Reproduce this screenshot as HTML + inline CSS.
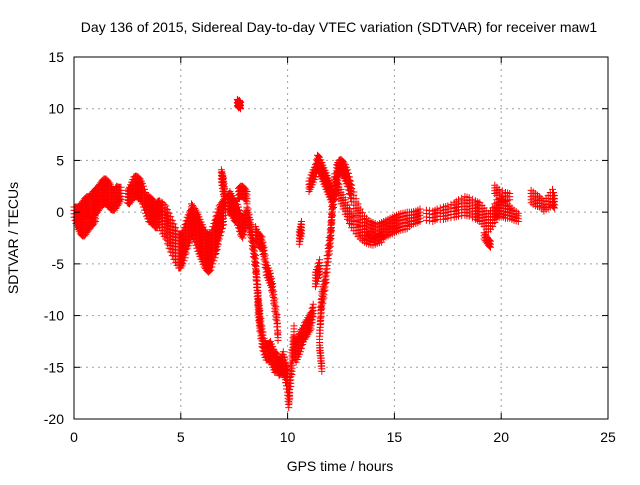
<!DOCTYPE html>
<html><head><meta charset="utf-8"><style>
body{margin:0;background:#fff}
svg text{font-family:"Liberation Sans",sans-serif;font-size:14px;fill:#000}
</style></head><body>
<svg id="chart" width="640" height="480" xmlns="http://www.w3.org/2000/svg">
<rect width="640" height="480" fill="#fff"/>
<g id="grid"></g>
<g id="marks"></g>
<rect x="74" y="57" width="534" height="362" fill="none" stroke="#000" stroke-width="1"/>
<g id="ticks"></g>
<text x="339" y="32" text-anchor="middle">Day 136 of 2015, Sidereal Day-to-day VTEC variation (SDTVAR) for receiver maw1</text>
<text x="340" y="471" text-anchor="middle">GPS time / hours</text>
<text x="18" y="238" text-anchor="middle" transform="rotate(-90 18 238)">SDTVAR / TECUs</text>
</svg>
<script>
const xTicks=[0,5,10,15,20,25];
const yTicks=[15,10,5,0,-5,-10,-15,-20];
const t1=[0,0.1,0.2,0.3,0.4,0.5,0.6,0.7,0.8,0.9,1.0,1.1,1.2,1.3,1.4,1.5,1.6,1.7,1.8,1.9,2.0,2.1,2.2];
const v1=[0,-0.3,-0.5,-0.3,0,0.3,0.5,0.5,0.5,0.8,1,1.2,1.5,1.8,2,2,1.8,1.5,1.2,1.2,1.5,1.6,1.8];
const s1=[0.5,0.8,1,1,1,1,1,1,1.2,1.2,1.2,1.2,1.2,1.2,1.2,1.2,1.2,1.2,1,1,1,0.8,0.6];
const t2=[0.2,0.3,0.4,0.5,0.6,0.7,0.8,0.9,1.0];
const v2=[-1.3,-1.6,-1.8,-1.8,-1.5,-1.2,-1.0,-0.8,-0.5];
const s2=[0.4,0.5,0.5,0.5,0.5,0.5,0.4,0.4,0.4];
const t3=[2.5,2.6,2.7,2.8,2.9,3.0,3.1,3.2,3.3,3.4,3.5,3.6,3.7,3.8,3.9];
const v3=[1.5,1.6,2,2.4,2.5,2.4,2.2,1.8,1.2,0.6,0.3,0.2,0,-0.3,-0.5];
const s3=[0.6,0.8,0.9,1,1,1,1,1,1,1,1.2,1.2,1.2,1.2,1];
const t4=[3.9,4.0,4.15,4.3,4.45,4.6,4.75,4.9,5.0,5.1,5.2,5.3,5.4,5.5];
const v4=[0,-0.2,-0.6,-1.0,-1.8,-2.5,-3.2,-3.8,-3.8,-3.4,-2.8,-2,-1.5,-1];
const s4=[1,1.3,1.5,1.6,1.7,1.7,1.7,1.6,1.6,1.6,1.6,1.5,1.5,1.3];
const t5=[5.5,5.6,5.7,5.8,5.9,6.0,6.1,6.2,6.3,6.4,6.5,6.6,6.7,6.8,6.9,7.0];
const v5=[-0.5,-1,-1.5,-2,-2.5,-3,-3.5,-3.8,-4,-3.8,-3.2,-2.6,-1.8,-1,-0.5,0];
const s5=[1.3,1.5,1.7,1.8,1.8,1.8,1.8,1.8,1.8,1.8,1.8,1.8,1.8,1.6,1.4,1.2];
const t6=[6.9,6.95,7.0,7.05,7.1];
const v6=[3.5,3,2.5,1.5,0.5];
const s6=[0.6,0.7,0.8,0.8,0.8];
const t7=[7.2,7.3,7.4,7.5,7.6,7.7,7.8,7.9,8.0,8.1];
const v7=[0.8,1,0.6,0.2,0,-0.5,-1.2,-1.5,-1,-0.5];
const s7=[0.8,1,1,1,1,1,1,1,0.8,0.8];
const t8=[7.7,7.8,7.9,8.0,8.1];
const v8=[1.8,2,2,1.8,1.5];
const s8=[0.5,0.5,0.5,0.5,0.5];
const t9=[7.65,7.7,7.75,7.8];
const v9=[10.6,10.4,10.5,10.3];
const s9=[0.3,0.3,0.3,0.3];
const t10=[8.1,8.2,8.3,8.4,8.5,8.55,8.6,8.65,8.7,8.8,8.9,9.0,9.1,9.2,9.3,9.4,9.5,9.6,9.7,9.8,9.9,10.0,10.05,10.1,10.2,10.3];
const v10=[0,-1,-2,-3.5,-5,-6.5,-8,-9.5,-10.5,-12,-13,-13.5,-13.5,-13.5,-14,-14.5,-14.5,-15,-14.8,-14.5,-15.5,-16.5,-18.3,-17,-14.5,-12];
const s10=[0.8,0.8,0.8,0.8,0.8,0.8,1,1,1,1,0.8,0.8,0.8,1,1,1,0.8,0.8,0.8,1,1,1.2,0.6,1,1.2,1];
const t11=[8.5,8.6,8.7,8.8,8.9,9.0,9.1,9.2,9.3,9.4,9.5,9.55];
const v11=[-2,-2.5,-2.8,-3,-4,-5.5,-6,-6.5,-7.5,-9,-10.5,-12];
const s11=[0.6,0.6,0.6,0.6,0.6,0.6,0.6,0.6,0.6,0.6,0.6,0.4];
const t12=[10.3,10.4,10.5,10.6,10.7,10.8,10.9,11.0,11.1,11.2];
const v12=[-13,-13.5,-13,-12.5,-12,-11.5,-11.2,-10.8,-10.5,-9.5];
const s12=[1,1,1,1,0.8,0.8,0.8,0.8,0.8,0.6];
const t13=[11.5,11.55,11.6,11.7,11.8,11.9,12.0,12.05,12.1,12.2,12.3,12.4];
const v13=[-12,-10,-8.5,-7.5,-6,-4,-2.5,-1,0.5,2,3,4];
const s13=[0.6,0.8,0.8,0.8,0.8,0.8,0.8,0.8,0.8,0.8,0.8,0.6];
const t14=[11.5,11.55,11.6];
const v14=[-13,-14,-15];
const s14=[0.4,0.4,0.4];
const t15=[10.55,10.6,10.65];
const v15=[-2.5,-2,-1.5];
const s15=[0.6,0.6,0.6];
const t16=[11.3,11.4,11.5];
const v16=[-6.5,-6,-5.3];
const s16=[0.7,0.7,0.7];
const t17=[11.0,11.1,11.2,11.3,11.4,11.5,11.6,11.7,11.8,11.9,12.0,12.1];
const v17=[2.5,3,3.5,4,4.8,4.5,4,3.5,3,2.5,2,1.5];
const s17=[0.5,0.6,0.6,0.6,0.7,0.8,0.8,0.8,0.8,0.8,0.8,0.8];
const t18=[12.3,12.4,12.5,12.6,12.7,12.8,12.9,13.0,13.2,13.4,13.6,13.8,14.0,14.2,14.4,14.6,14.8,15.0,15.2,15.4,15.6,15.8,16.0,16.2];
const v18=[4,4.4,4.5,4.2,3.8,3.3,2.6,1.8,0.5,-0.5,-1.2,-1.6,-1.8,-2,-1.8,-1.6,-1.4,-1.2,-1,-0.9,-0.8,-0.6,-0.5,-0.3];
const s18=[0.6,0.6,0.6,0.7,0.8,0.8,0.8,0.8,0.8,0.8,0.8,0.8,0.8,0.8,0.8,0.8,0.8,0.8,0.8,0.8,0.8,0.6,0.6,0.6];
const t19=[12.2,12.4,12.6,12.8,13.0,13.2,13.4,13.6,13.8,14.0,14.2,14.4];
const v19=[3,2,1,0,-0.8,-1.5,-2,-2.4,-2.6,-2.8,-2.6,-2.5];
const s19=[0.7,0.7,0.7,0.7,0.7,0.6,0.6,0.5,0.5,0.4,0.4,0.4];
const t20=[16.5,16.8,17.0,17.3,17.5,17.8,18.0,18.3,18.5,18.8,19.0,19.2,19.4,19.6,19.8,20.0,20.2,20.4,20.6,20.8];
const v20=[-0.3,-0.4,-0.2,-0.1,0,0.2,0.4,0.6,0.5,0.2,0,-0.5,-1,-0.5,0.3,0.5,0.2,0,-0.3,-0.5];
const s20=[0.5,0.5,0.5,0.6,0.6,0.7,0.8,0.9,0.9,0.9,0.9,0.9,0.9,0.9,0.9,0.9,0.8,0.6,0.5,0.4];
const t21=[19.2,19.3,19.4,19.5,19.7,19.9,20.2,20.4];
const v21=[-2.3,-2.6,-2.9,-3.1,2.2,1.8,1.5,1.5];
const s21=[0.3,0.3,0.3,0.3,0.4,0.4,0.4,0.3];
const t22=[21.4,21.6,21.8,22.0,22.2,22.4,22.5];
const v22=[1.5,1.2,1,0.6,1,1.4,1];
const s22=[0.6,0.6,0.5,0.5,0.6,0.8,0.6];
const tracksT=[t1,t2,t3,t4,t5,t6,t7,t8,t9,t10,t11,t12,t13,t14,t15,t16,t17,t18,t19,t20,t21,t22];
const tracksV=[v1,v2,v3,v4,v5,v6,v7,v8,v9,v10,v11,v12,v13,v14,v15,v16,v17,v18,v19,v20,v21,v22];
const tracksS=[s1,s2,s3,s4,s5,s6,s7,s8,s9,s10,s11,s12,s13,s14,s15,s16,s17,s18,s19,s20,s21,s22];

const X0=74,X1=608,Y0=419,Y1=57;
const xs=t=>X0+(t-0)/(25-0)*(X1-X0);
const ys=v=>Y0-(v+20)/(35)*(Y0-Y1);
const NS="http://www.w3.org/2000/svg";
const grid=document.getElementById('grid'),ticks=document.getElementById('ticks'),marks=document.getElementById('marks');
function mk(tag,attrs,parent){const e=document.createElementNS(NS,tag);for(const k in attrs)e.setAttribute(k,attrs[k]);parent.appendChild(e);return e;}
xTicks.forEach(t=>{
 const x=xs(t);
 if(t>0&&t<25){const g=mk('line',{x1:x,x2:x,y1:Y1,y2:Y0,stroke:'#a0a0a0','stroke-dasharray':'2,4'},grid);
 
 }
 mk('line',{x1:x,x2:x,y1:Y0,y2:Y0-6,stroke:'#000'},ticks);
 mk('line',{x1:x,x2:x,y1:Y1,y2:Y1+6,stroke:'#000'},ticks);
 const tx=mk('text',{x:x,y:Y0+23,'text-anchor':'middle'},ticks);tx.textContent=t;
 
 
});
yTicks.forEach(v=>{
 const y=ys(v);
 if(v<15&&v>-20){const g=mk('line',{x1:X0,x2:X1,y1:y,y2:y,stroke:'#a0a0a0','stroke-dasharray':'2,4'},grid);
 
 }
 mk('line',{x1:X0,x2:X0+6,y1:y,y2:y,stroke:'#000'},ticks);
 mk('line',{x1:X1,x2:X1-6,y1:y,y2:y,stroke:'#000'},ticks);
 const tx=mk('text',{x:X0-10,y:y+5,'text-anchor':'end'},ticks);tx.textContent=v;
 
 
});
let d='';
tracksT.forEach((T,i)=>{
 const V=tracksV[i],S=tracksS[i];
 for(let j=0;j<T.length;j++){
  const n=Math.max(1,Math.round(2*S[j]/0.3));
  for(let k=0;k<=n;k++){
   const v=V[j]-S[j]+2*S[j]*k/n;
   const x=xs(T[j]),y=ys(v);
   d+=`M${(x-3.5).toFixed(1)} ${y.toFixed(1)}h7M${x.toFixed(1)} ${(y-3.5).toFixed(1)}v7`;
  }
  if(j<T.length-1){
   const tm=(T[j]+T[j+1])/2,vm=(V[j]+V[j+1])/2,sm=(S[j]+S[j+1])/2;
   const n2=Math.max(1,Math.round(2*sm/0.3));
   for(let k=0;k<=n2;k++){const v=vm-sm+2*sm*k/n2;const x=xs(tm),y=ys(v);
    d+=`M${(x-3.5).toFixed(1)} ${y.toFixed(1)}h7M${x.toFixed(1)} ${(y-3.5).toFixed(1)}v7`;}
  }
 }
});
const p=mk('path',{d:d,stroke:'#ff0000','stroke-width':1,fill:'none'},marks);


</script>
</body></html>
